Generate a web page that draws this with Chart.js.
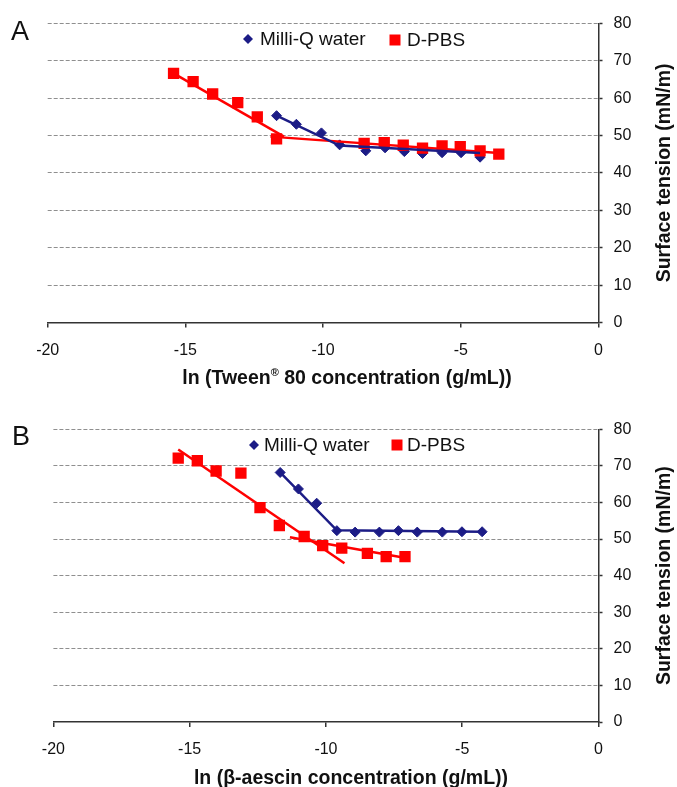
<!DOCTYPE html>
<html>
<head>
<meta charset="utf-8">
<script src="https://cdn.jsdelivr.net/npm/chart.js@4.4.1/dist/chart.umd.min.js"></script>
<style>
  html, body { margin: 0; padding: 0; background: #fff; overflow: hidden; }
  #wrap { position: relative; width: 677px; height: 787px; }
  canvas { position: absolute; left: 0; }
  #chartA { top: 0; }
  #chartB { top: 393px; }
</style>
</head>
<body>
<div id="wrap">
  <canvas id="chartA" width="677" height="393"></canvas>
  <canvas id="chartB" width="677" height="400"></canvas>
</div>
<script>
// axis ticks (both panels)
const xTicks = [-20, -15, -10, -5, 0]
const yTicks = [0, 10, 20, 30, 40, 50, 60, 70, 80]

// panel A: Tween 80
const tweenWaterX = [-11.69, -10.97, -10.06, -9.40, -8.45, -7.75, -7.05, -6.39, -5.68, -4.99, -4.30]
const tweenWaterY = [55.3, 53.0, 50.7, 47.5, 45.9, 46.7, 45.7, 45.2, 45.4, 45.4, 44.2]
const tweenPbsX = [-15.43, -14.72, -14.01, -13.10, -12.39, -11.69, -8.51, -7.78, -7.09, -6.39, -5.68, -5.02, -4.30, -3.62]
const tweenPbsY = [66.6, 64.4, 61.1, 58.8, 55.0, 49.1, 47.9, 48.1, 47.4, 46.6, 47.2, 47.0, 45.9, 45.0]
// fitted lines, end points
const tweenWaterFitX = [-11.69, -9.40, -4.30]
const tweenWaterFitY = [55.3, 47.3, 45.3]
const tweenPbsFit1X = [-15.43, -11.42]
const tweenPbsFit1Y = [66.6, 49.7]
const tweenPbsFit2X = [-11.91, -3.62]
const tweenPbsFit2Y = [49.7, 45.3]

// panel B: beta-aescin
const aescinWaterX = [-11.68, -11.01, -10.34, -9.60, -8.93, -8.04, -7.34, -6.65, -5.73, -5.01, -4.27]
const aescinWaterY = [68.2, 63.7, 59.8, 52.3, 51.9, 51.9, 52.3, 51.9, 51.9, 52.0, 52.0]
const aescinPbsX = [-15.42, -14.72, -14.03, -13.12, -12.42, -11.71, -10.80, -10.12, -9.42, -8.48, -7.79, -7.10]
const aescinPbsY = [72.1, 71.4, 68.6, 68.0, 58.6, 53.7, 50.7, 48.2, 47.5, 46.1, 45.2, 45.2]
const aescinWaterFitX = [-11.68, -9.60, -4.27]
const aescinWaterFitY = [68.2, 52.4, 52.0]
const aescinPbsFit1X = [-15.42, -9.32]
const aescinPbsFit1Y = [74.5, 43.4]
const aescinPbsFit2X = [-11.32, -7.07]
const aescinPbsFit2Y = [50.5, 44.8]

const FONT = '"Liberation Sans", Arial, sans-serif'
const NAVY = '#1c1c86'
const RED = '#ff0000'

Chart.defaults.font.family = FONT
Chart.defaults.color = '#111'

function pts(xs, ys) {
  return xs.map((x, i) => ({ x: x, y: ys[i] }))
}

function drawMarker(ctx, style, color, x, y, r) {
  ctx.fillStyle = color
  ctx.beginPath()
  if (style === 'rectRot') {
    ctx.moveTo(x - r, y)
    ctx.lineTo(x, y - r)
    ctx.lineTo(x + r, y)
    ctx.lineTo(x, y + r)
    ctx.closePath()
  } else {
    ctx.rect(x - r, y - r, 2 * r, 2 * r)
  }
  ctx.fill()
}

// panel letter, legend inside the plot, axis titles
const panelDecor = {
  id: 'panelDecor',
  afterDraw(chart, args, o) {
    const { ctx, chartArea } = chart
    ctx.save()
    ctx.textBaseline = 'middle'

    ctx.fillStyle = '#111'
    ctx.font = '27px ' + FONT
    ctx.textAlign = 'center'
    ctx.fillText(o.letter, o.letterPos[0], o.letterPos[1])

    ctx.font = '19px ' + FONT
    ctx.textAlign = 'left'
    o.legend.forEach(item => {
      drawMarker(ctx, item.style, item.color, item.x, item.y, item.size)
      ctx.fillStyle = '#111'
      ctx.fillText(item.label, item.textX, item.y + 1)
    })

    // x title, with an optional superscript part
    const big = 'bold 19.5px ' + FONT
    const small = 'bold 11px ' + FONT
    let total = 0
    o.xTitle.forEach(seg => {
      ctx.font = seg.sup ? small : big
      total += ctx.measureText(seg.t).width
    })
    let cx = o.xTitleCenter - total / 2
    ctx.fillStyle = '#111'
    ctx.textAlign = 'left'
    o.xTitle.forEach(seg => {
      ctx.font = seg.sup ? small : big
      ctx.fillText(seg.t, cx, o.xTitleY + (seg.sup ? -6 : 0))
      cx += ctx.measureText(seg.t).width
    })

    // y title reads bottom to top
    ctx.translate(o.yTitleX, (chartArea.top + chartArea.bottom) / 2)
    ctx.rotate(-Math.PI / 2)
    ctx.font = big
    ctx.textAlign = 'center'
    ctx.fillText(o.yTitle, 0, 0)
    ctx.restore()
  }
}

function makeChart(id, d, box, decor) {
  return new Chart(document.getElementById(id), {
    type: 'scatter',
    data: {
      datasets: [
        { label: 'water fit', data: d.waterFit, showLine: true, borderColor: NAVY, borderWidth: 2.5, pointRadius: 0, order: 0 },
        { label: 'D-PBS', data: d.pbs, pointStyle: 'rect', pointRadius: 8, backgroundColor: RED, borderColor: RED, borderWidth: 0, order: 1 },
        { label: 'pbs fit 1', data: d.pbsFit1, showLine: true, borderColor: RED, borderWidth: 2.5, pointRadius: 0, order: 2 },
        { label: 'pbs fit 2', data: d.pbsFit2, showLine: true, borderColor: RED, borderWidth: 2.5, pointRadius: 0, order: 2 },
        { label: 'Milli-Q water', data: d.water, pointStyle: 'rectRot', pointRadius: 5, backgroundColor: NAVY, borderColor: NAVY, borderWidth: 1, order: 3 }
      ]
    },
    options: {
      responsive: false,
      animation: false,
      layout: { padding: { left: box.left, top: box.top, right: 0, bottom: 0 } },
      plugins: {
        legend: { display: false },
        tooltip: { enabled: false },
        panelDecor: decor
      },
      scales: {
        x: {
          type: 'linear',
          min: xTicks[0],
          max: xTicks[xTicks.length - 1],
          afterFit: (s) => { s.height = box.xAxisH },
          ticks: { stepSize: 5, padding: 13, font: { size: 16 }, color: '#111' },
          grid: { drawOnChartArea: false, drawTicks: true, tickLength: 5, color: '#333', lineWidth: 1.5 },
          border: { color: '#333', width: 1.5 }
        },
        y: {
          type: 'linear',
          position: 'right',
          min: yTicks[0],
          max: yTicks[yTicks.length - 1],
          afterFit: (s) => { s.width = box.yAxisW },
          ticks: { stepSize: 10, padding: 11, font: { size: 16 }, color: '#111' },
          grid: {
            color: (c) => c.tick && c.tick.value === 0 ? 'rgba(0,0,0,0)' : '#8f8f8f',
            lineWidth: 1,
            tickLength: 4,
            tickColor: '#333',
            tickWidth: 1.5
          },
          border: { color: '#333', width: 1.5, dash: [4, 2] }
        }
      }
    },
    plugins: [panelDecor]
  })
}

makeChart('chartA', {
  water: pts(tweenWaterX, tweenWaterY),
  pbs: pts(tweenPbsX, tweenPbsY),
  waterFit: pts(tweenWaterFitX, tweenWaterFitY),
  pbsFit1: pts(tweenPbsFit1X, tweenPbsFit1Y),
  pbsFit2: pts(tweenPbsFit2X, tweenPbsFit2Y)
}, { left: 47.7, top: 23.3, xAxisH: 70.5, yAxisW: 78.5 }, {
  letter: 'A',
  letterPos: [20, 33],
  legend: [
    { label: 'Milli-Q water', style: 'rectRot', color: NAVY, size: 5, x: 248, y: 39, textX: 260 },
    { label: 'D-PBS', style: 'rect', color: RED, size: 5.5, x: 395, y: 40, textX: 407 }
  ],
  xTitle: [{ t: 'ln (Tween' }, { t: '®', sup: true }, { t: ' 80 concentration (g/mL))' }],
  xTitleCenter: 347,
  xTitleY: 379,
  yTitle: 'Surface tension (mN/m)',
  yTitleX: 665
})

makeChart('chartB', {
  water: pts(aescinWaterX, aescinWaterY),
  pbs: pts(aescinPbsX, aescinPbsY),
  waterFit: pts(aescinWaterFitX, aescinWaterFitY),
  pbsFit1: pts(aescinPbsFit1X, aescinPbsFit1Y),
  pbsFit2: pts(aescinPbsFit2X, aescinPbsFit2Y)
}, { left: 53.4, top: 36.3, xAxisH: 71, yAxisW: 78.5 }, {
  letter: 'B',
  letterPos: [21, 45],
  legend: [
    { label: 'Milli-Q water', style: 'rectRot', color: NAVY, size: 5, x: 254, y: 52, textX: 264 },
    { label: 'D-PBS', style: 'rect', color: RED, size: 5.5, x: 397, y: 52, textX: 407 }
  ],
  xTitle: [{ t: 'ln (β-aescin concentration (g/mL))' }],
  xTitleCenter: 351,
  xTitleY: 386,
  yTitle: 'Surface tension (mN/m)',
  yTitleX: 665
})
</script>
</body>
</html>
